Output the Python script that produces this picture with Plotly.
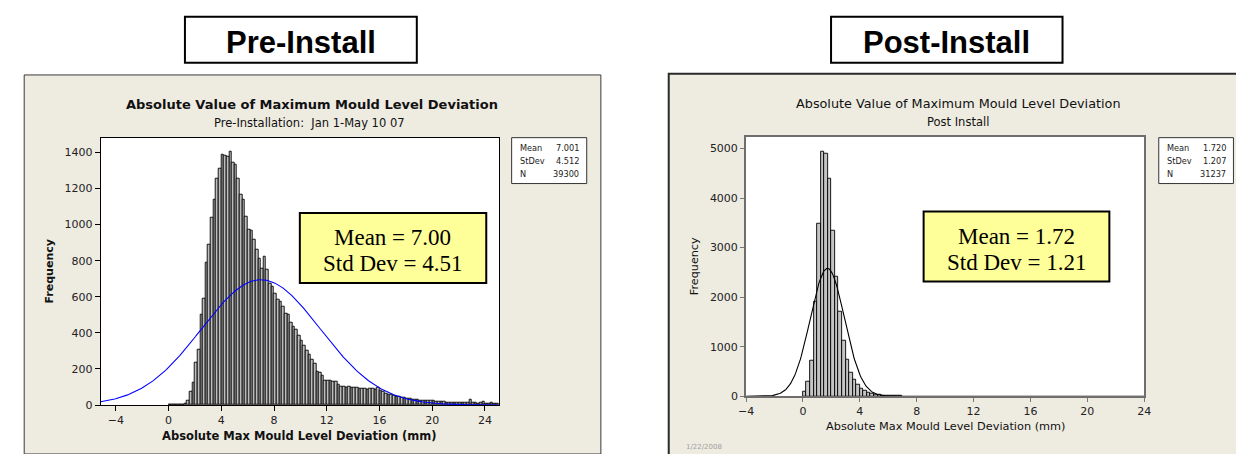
import plotly.graph_objects as go
import numpy as np

W, H = 1244, 454

# ---------------- data ----------------
pre_start = 0.0
pre_width = 0.2
pre_counts = [2, 2, 3, 3, 4, 5, 9, 27, 73, 127, 236, 309, 500, 591, 791, 891, 1040, 1136, 1255, 1309,
              1386, 1382, 1378, 1404, 1345, 1331, 1255, 1164, 1136, 1045, 973, 964, 918, 864, 809, 755,
              822, 749, 673, 655, 618, 582, 573, 546, 509, 500, 455, 436, 418, 382, 355, 327, 300, 282,
              254, 227, 185, 178, 164, 136, 136,
              134, 132, 130, 112, 102, 100, 98, 100, 97, 99, 95, 93, 90, 92, 88, 90, 92, 86, 94, 80,
              72, 66, 60, 56, 52, 48, 46, 42, 40, 36, 34, 32, 30, 28, 27, 25, 24, 23, 22, 24,
              20, 18, 19, 17, 16, 15, 16, 14, 13, 14, 12, 13, 14, 30, 12, 11, 10, 12, 18, 10,
              9, 11, 9, 10]
pre_mean, pre_sd, pre_n = 7.001, 4.512, 39300

post_start = 0.0
post_width = 0.25
post_counts = [99, 298, 708, 1915, 3479, 4936, 4890, 4394, 3352, 2405, 1710, 1113, 728, 469, 338,
               239, 151, 105, 72, 46, 30, 22, 15, 12, 8, 6, 5, 4]
post_mean, post_sd, post_n = 1.720, 1.207, 31237

x_ticks = [-4, 0, 4, 8, 12, 16, 20, 24]
pre_y_ticks = [0, 200, 400, 600, 800, 1000, 1200, 1400]
post_y_ticks = [0, 1000, 2000, 3000, 4000, 5000]

# ---------------- helpers ----------------
def px(x):
    return x / W

def py(y):
    return 1 - y / H

FONT = "DejaVu Sans"

fig = go.Figure()

# histograms
fig.add_trace(go.Bar(x0=pre_start + pre_width / 2, dx=pre_width, y=pre_counts, width=pre_width,
                     marker=dict(color="#BDBDBD", line=dict(color="#000000", width=0.9)),
                     xaxis="x", yaxis="y", showlegend=False))
fig.add_trace(go.Bar(x0=post_start + post_width / 2, dx=post_width, y=post_counts, width=post_width,
                     marker=dict(color="#C4C4C4", line=dict(color="#000000", width=0.9)),
                     xaxis="x2", yaxis="y2", showlegend=False))

# fitted normal curves
xr_pre = np.linspace(-5.15, 25.07, 400)
yr_pre = pre_n * pre_width / (pre_sd * np.sqrt(2 * np.pi)) * np.exp(-0.5 * ((xr_pre - pre_mean) / pre_sd) ** 2)
fig.add_trace(go.Scatter(x=xr_pre, y=yr_pre, mode="lines", line=dict(color="#0000FF", width=1.1),
                         xaxis="x", yaxis="y", showlegend=False))
xr_post = np.linspace(-4, 24, 500)
yr_post = post_n * post_width / (post_sd * np.sqrt(2 * np.pi)) * np.exp(-0.5 * ((xr_post - post_mean) / post_sd) ** 2)
fig.add_trace(go.Scatter(x=xr_post, y=yr_post, mode="lines", line=dict(color="#000000", width=1.1),
                         xaxis="x2", yaxis="y2", showlegend=False))

tickfont = dict(family=FONT, size=11, color="#222222")

fig.update_layout(
    width=W, height=H, margin=dict(l=0, r=0, t=0, b=0),
    paper_bgcolor="#FFFFFF", plot_bgcolor="rgba(0,0,0,0)",
    bargap=0, showlegend=False,
    xaxis=dict(domain=[px(85.7), px(489)], range=[-5.15, 25.07], tickvals=x_ticks,
               ticks="outside", ticklen=5, tickcolor="#000", showgrid=False, zeroline=False,
               showline=True, linecolor="#000", linewidth=1, mirror=True, tickfont=tickfont,
               anchor="y"),
    yaxis=dict(domain=[py(403.3), py(131.7)], range=[0, 1482], tickvals=pre_y_ticks,
               ticks="outside", ticklen=5, tickcolor="#000", showgrid=False, zeroline=False,
               showline=True, linecolor="#000", linewidth=1, mirror=True, tickfont=tickfont,
               anchor="x"),
    xaxis2=dict(domain=[px(739), px(1142)], range=[-4, 24], tickvals=x_ticks,
                ticks="outside", ticklen=4, tickcolor="#777", showgrid=False, zeroline=False,
                showline=True, linecolor="#6E6E6E", linewidth=2, mirror=True, tickfont=tickfont,
                anchor="y2"),
    yaxis2=dict(domain=[py(394.3), py(130.7)], range=[0, 5240], tickvals=post_y_ticks,
                ticks="outside", ticklen=4, tickcolor="#777", showgrid=False, zeroline=False,
                showline=True, linecolor="#6E6E6E", linewidth=2, mirror=True, tickfont=tickfont,
                anchor="x2"),
)

shapes = []
BEIGE = "#EEEBE1"
# beige panels
shapes.append(dict(type="rect", xref="paper", yref="paper", x0=px(8.3), x1=px(592), y0=py(453), y1=py(68),
                   fillcolor=BEIGE, line=dict(color="#3A3A3A", width=1), layer="below"))
shapes.append(dict(type="rect", xref="paper", yref="paper", x0=px(660.7), x1=px(1250), y0=py(460), y1=py(66.7),
                   fillcolor=BEIGE, line=dict(color="#2A2A2A", width=2), layer="below"))
# white plot areas
shapes.append(dict(type="rect", xref="paper", yref="paper", x0=px(85.7), x1=px(489), y0=py(403.3), y1=py(131.7),
                   fillcolor="#FFFFFF", line=dict(width=0), layer="below"))
shapes.append(dict(type="rect", xref="paper", yref="paper", x0=px(739), x1=px(1142), y0=py(394.3), y1=py(130.7),
                   fillcolor="#FFFFFF", line=dict(width=0), layer="below"))
# header boxes
shapes.append(dict(type="rect", xref="paper", yref="paper", x0=px(171), x1=px(405.7), y0=py(55.7), y1=py(9),
                   fillcolor="#FFFFFF", line=dict(color="#000", width=2)))
shapes.append(dict(type="rect", xref="paper", yref="paper", x0=px(825), x1=px(1059.3), y0=py(55.7), y1=py(9),
                   fillcolor="#FFFFFF", line=dict(color="#000", width=2)))
# yellow annotation boxes
shapes.append(dict(type="rect", xref="paper", yref="paper", x0=px(287.3), x1=px(476), y0=py(279.3), y1=py(208.3),
                   fillcolor="#FFFF99", line=dict(color="#000", width=2)))
shapes.append(dict(type="rect", xref="paper", yref="paper", x0=px(918.7), x1=px(1106.7), y0=py(277.7), y1=py(206.7),
                   fillcolor="#FFFF99", line=dict(color="#000", width=2)))
# stats boxes
shapes.append(dict(type="rect", xref="paper", yref="paper", x0=px(501.7), x1=px(577.7), y0=py(178.3), y1=py(131.7),
                   fillcolor="#FFFFFF", line=dict(color="#333", width=1)))
shapes.append(dict(type="rect", xref="paper", yref="paper", x0=px(1156.7), x1=px(1232.3), y0=py(178.3), y1=py(131.7),
                   fillcolor="#FFFFFF", line=dict(color="#333", width=1)))
fig.update_layout(shapes=shapes)

ann = []
def text(x, y, s, size, family=FONT, color="#111111", xanchor="center", bold=False, angle=0):
    if bold:
        s = "<b>" + s + "</b>"
    ann.append(dict(x=px(x), y=py(y), xref="paper", yref="paper", text=s, showarrow=False,
                    font=dict(family=family, size=size, color=color), xanchor=xanchor, yanchor="middle",
                    textangle=angle))

# headers
text(288.3, 35, "Pre-Install", 31, family="Liberation Sans", color="#000", bold=True)
text(942.2, 35, "Post-Install", 31, family="Liberation Sans", color="#000", bold=True)
# titles
text(299.5, 98, "Absolute Value of Maximum Mould Level Deviation", 13, bold=True)
text(297.5, 117, "Pre-Installation:\u00a0 Jan 1-May 10 07", 11.5)
text(954, 97, "Absolute Value of Maximum Mould Level Deviation", 12.8)
text(953, 116, "Post Install", 11.5)
# axis titles
text(287, 435, "Absolute Max Mould Level Deviation (mm)", 11.5, bold=True)
text(33.5, 267.5, "Frequency", 11, bold=True, angle=-90)
text(941, 425, "Absolute Max Mould Level Deviation (mm)", 11.3)
text(687, 262.5, "Frequency", 11.2, angle=-90)
# yellow box text
SERIF = "Liberation Serif"
text(381.6, 232.7, "Mean = 7.00", 23, family=SERIF, color="#000")
text(381.6, 259.3, "Std Dev = 4.51", 23, family=SERIF, color="#000")
text(1012.7, 231.7, "Mean = 1.72", 23, family=SERIF, color="#000")
text(1012.7, 258.3, "Std Dev = 1.21", 23, family=SERIF, color="#000")
# stats boxes
for (lx, rx), vals in [((507.7, 571.7), ["7.001", "4.512", "39300"]), ((1162.7, 1226.7), ["1.720", "1.207", "31237"])]:
    for yy, lab, v in zip([141.7, 155, 168.3], ["Mean", "StDev", "N"], vals):
        text(lx, yy, lab, 8.2, xanchor="left", color="#222")
        text(rx, yy, v, 8.2, xanchor="right", color="#222")
# date
text(676, 446, "1/22/2008", 7, xanchor="left", color="#A0A0A0")

fig.update_layout(annotations=ann)
fig.write_html("out.html")
